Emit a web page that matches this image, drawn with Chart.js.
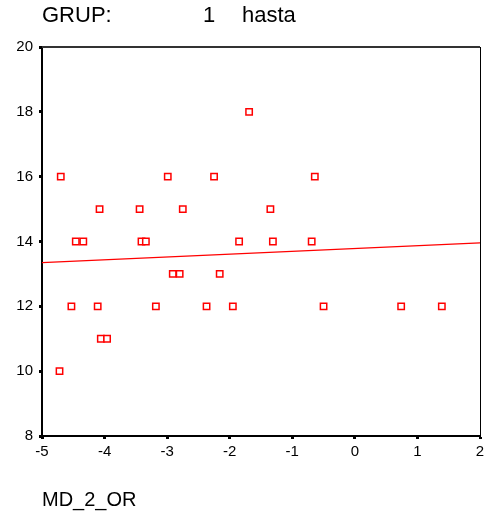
<!DOCTYPE html>
<html>
<head>
<meta charset="utf-8">
<script src="https://cdn.jsdelivr.net/npm/chart.js@4/dist/chart.umd.min.js"></script>
<style>
  html, body { margin: 0; padding: 0; background: #fff; }
  #wrap { width: 489px; height: 517px; }
</style>
</head>
<body>
<div id="wrap"><canvas id="chart" width="489" height="517"></canvas></div>
<script>
// scatter values
const mdValues = [-4.72, -4.70, -4.53, -4.46, -4.34, -4.08, -4.11, -4.06, -3.96, -3.44,
                  -3.41, -3.34, -3.18, -2.99, -2.91, -2.80, -2.75, -2.37, -2.25, -2.16,
                  -1.95, -1.85, -1.69, -1.35, -1.31, -0.69, -0.64, -0.50, 0.74, 1.39];
const grupValues = [10, 16, 12, 14, 14, 15, 12, 11, 11, 15,
                    14, 14, 12, 16, 13, 13, 15, 12, 16, 13,
                    12, 14, 18, 15, 14, 14, 16, 12, 12, 12];

// fitted line end points
const fitX = [-5, 2];
const fitY = [13.35, 13.96];

const xTicks = [-5, -4, -3, -2, -1, 0, 1, 2];
const yTicks = [8, 10, 12, 14, 16, 18, 20];

const titleParts = ['GRUP:', '1', 'hasta'];
const xTitle = 'MD_2_OR';

const FONT = '"Liberation Sans", Arial, sans-serif';

function toPoints(xs, ys) {
  return xs.map((x, i) => ({ x: x, y: ys[i] }));
}

// header text and the box frame (top + right edges)
const framePlugin = {
  id: 'frame',
  beforeDatasetsDraw(chart) {
    const a = chart.chartArea;
    const ctx = chart.ctx;
    ctx.save();
    ctx.strokeStyle = '#333';
    ctx.lineWidth = 2;
    ctx.beginPath();
    ctx.moveTo(a.left, a.top);
    ctx.lineTo(a.right, a.top);
    ctx.stroke();
    ctx.strokeStyle = '#000';
    ctx.lineWidth = 1;
    ctx.beginPath();
    ctx.moveTo(a.right + 0.5, a.top);
    ctx.lineTo(a.right + 0.5, a.bottom);
    ctx.stroke();
    ctx.restore();
  },
  afterDraw(chart) {
    const a = chart.chartArea;
    const ctx = chart.ctx;
    ctx.save();
    ctx.fillStyle = '#000';
    ctx.font = '22px ' + FONT;
    ctx.textBaseline = 'alphabetic';
    const offsets = [0, 161, 200];
    titleParts.forEach((t, i) => ctx.fillText(t, a.left + offsets[i], 22));
    ctx.restore();
  }
};

function drawChart() {
  new Chart(document.getElementById('chart'), {
    type: 'scatter',
    data: {
      datasets: [
        {
          data: toPoints(mdValues, grupValues),
          pointStyle: 'rect',
          pointRadius: 4.5,
          pointHoverRadius: 4.5,
          borderColor: '#ff0000',
          backgroundColor: '#ffffff',
          borderWidth: 1.5
        },
        {
          type: 'line',
          data: toPoints(fitX, fitY),
          borderColor: '#ff0000',
          borderWidth: 1.3,
          pointRadius: 0,
          fill: false
        }
      ]
    },
    options: {
      responsive: false,
      animation: false,
      events: [],
      layout: { padding: { top: 47, right: 9, left: 0, bottom: 0 } },
      plugins: {
        legend: { display: false },
        tooltip: { enabled: false }
      },
      scales: {
        x: {
          type: 'linear',
          min: -5,
          max: 2,
          afterBuildTicks(scale) { scale.ticks = xTicks.map(v => ({ value: v })); },
          afterFit(scale) { scale.height = 81; },
          border: { display: true, color: '#000', width: 2 },
          grid: { drawOnChartArea: false, drawTicks: true, tickLength: 3, tickWidth: 3, color: '#000' },
          ticks: { color: '#000', padding: 4, font: { family: FONT, size: 15 } },
          title: {
            display: true,
            text: xTitle,
            align: 'start',
            color: '#000',
            font: { family: FONT, size: 20 },
            padding: { top: 0, bottom: 5 }
          }
        },
        y: {
          type: 'linear',
          min: 8,
          max: 20,
          afterBuildTicks(scale) { scale.ticks = yTicks.map(v => ({ value: v })); },
          afterFit(scale) { scale.width = 42; },
          border: { display: true, color: '#000', width: 2 },
          grid: { drawOnChartArea: false, drawTicks: true, tickLength: 3, tickWidth: 3, color: '#000' },
          ticks: { color: '#000', padding: 6, font: { family: FONT, size: 15 } }
        }
      }
    },
    plugins: [framePlugin]
  });
}

drawChart();
</script>
</body>
</html>
